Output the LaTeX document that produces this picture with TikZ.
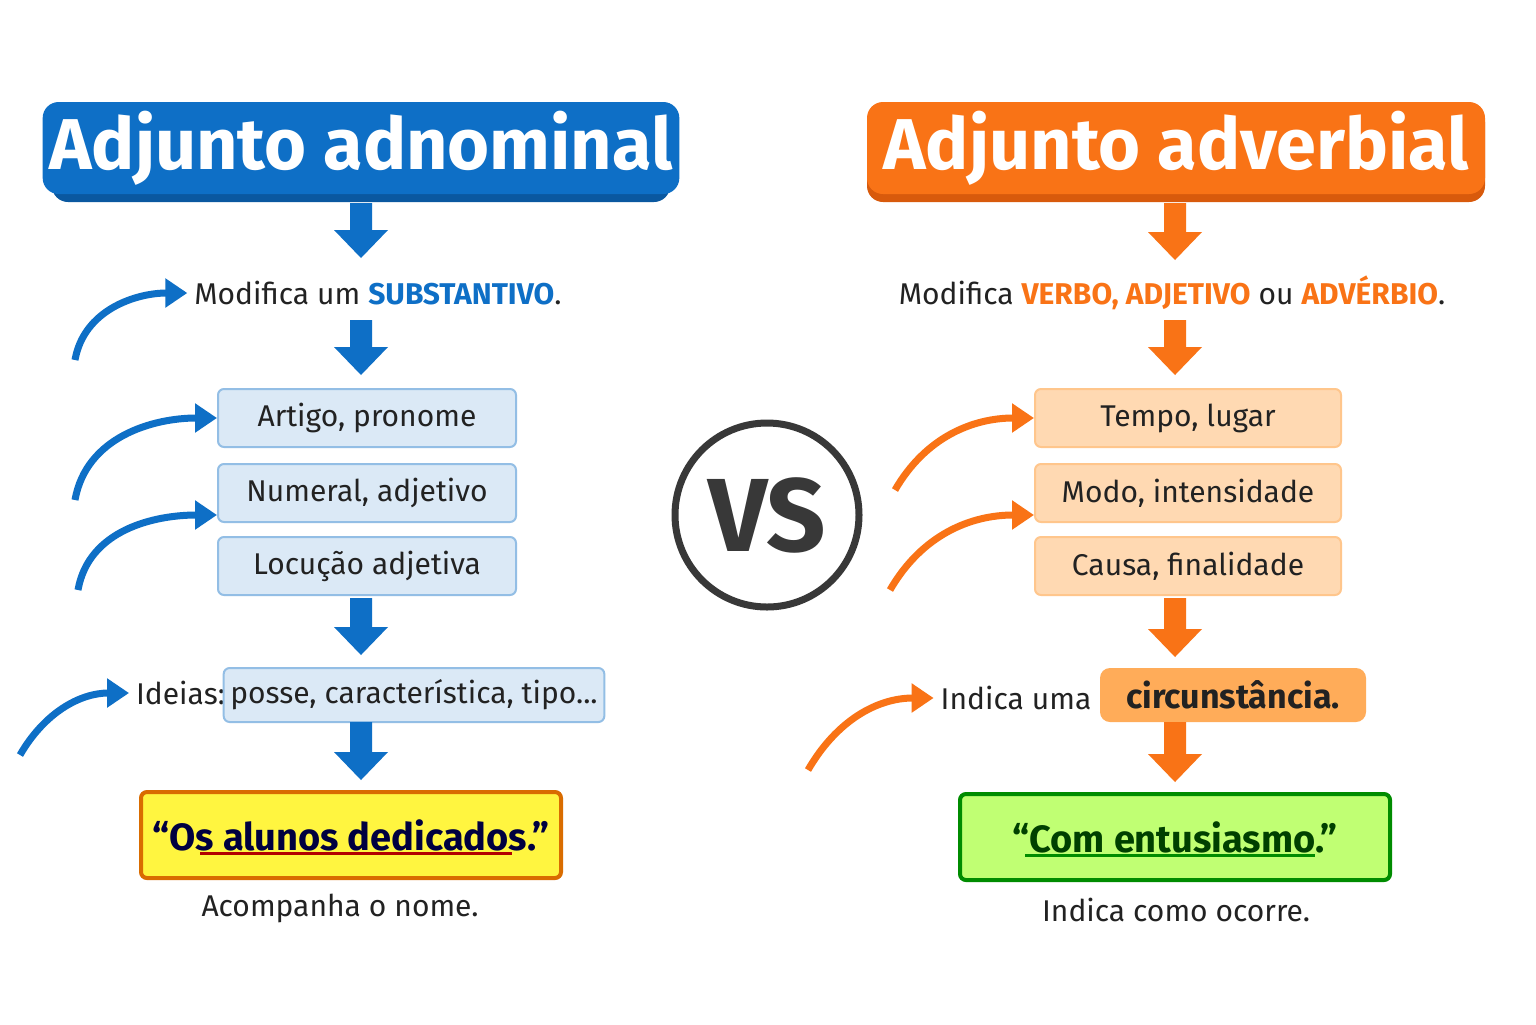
\documentclass[tikz,border=0pt]{standalone}
\usepackage{fontspec}
\setmainfont{Fira Sans}
\usetikzlibrary{arrows.meta}
\definecolor{bl}{HTML}{0E6FC6}
\definecolor{bld}{HTML}{0A58A0}
\definecolor{or}{HTML}{F97316}
\definecolor{ord}{HTML}{D85A0C}
\definecolor{txt}{HTML}{222222}
\tikzset{
 hdr/.style={fill=#1,rounded corners=8pt,text=white,font=\fontsize{36}{40}\selectfont\bfseries},
 bbox/.style={fill=#1!15,draw=#1!45,line width=1pt,rounded corners=3pt,minimum width=149pt,minimum height=29pt,font=\fontsize{15}{18}\selectfont,text=txt},
 lbl/.style={font=\fontsize{15}{18}\selectfont,text=txt},
 curv/.style={#1,line width=3.5pt,-{Triangle[length=11pt,width=14pt]}},
}
\newcommand\blockarrow[4]{\fill[#1] (#2-11,#3) -- (#2+11,#3) -- (#2+11,#4-28) -- (#2+27,#4-28) -- (#2,#4) -- (#2-27,#4-28) -- (#2-11,#4-28) -- cycle;}
\begin{document}
\begin{tikzpicture}[x=0.5pt,y=-0.5pt]
\useasboundingbox (0,0) rectangle (1536,1024);
\fill[white] (0,0) rectangle (1536,1024);
% headers
\fill[bld,rounded corners=8pt] (52,106) rectangle (670,202);
\node[hdr=bl,minimum width=309pt,minimum height=46pt] (h1) at (361,148) {Adjunto adnominal};
\fill[ord,rounded corners=8pt] (867,106) rectangle (1485,202);
\node[hdr=or,minimum width=309pt,minimum height=46pt] (h2) at (1176,148) {Adjunto adverbial};
% left column
\blockarrow{bl}{361}{203}{258}
\node[lbl] (m1) at (378,293) {Modifica um \textcolor{bl}{\bfseries SUBSTANTIVO}.};
\blockarrow{bl}{361}{320}{375}
\node[bbox=bl] (b1) at (367,418) {Artigo, pronome};
\node[bbox=bl] (b2) at (367,493) {Numeral, adjetivo};
\node[bbox=bl] (b3) at (367,566) {Locução adjetiva};
\blockarrow{bl}{361}{598}{655}
\node[lbl,anchor=east] (id) at (232,693) {Ideias:};
\node[bbox=bl,minimum width=177pt,minimum height=27pt] (b4) at (414,695) {posse, característica, tipo...};
\blockarrow{bl}{361}{722}{780}
\node[fill=yellow!75!white,draw=orange!85!black,line width=2pt,rounded corners=3pt,minimum width=210pt,minimum height=43pt,font=\fontsize{19}{22}\selectfont\bfseries,text=blue!25!black] (q1) at (351,835) {“Os alunos dedicados.”};
\draw[red!70!black,line width=1.5pt] (200,853) -- (512,853);
\node[lbl] (a1) at (340,908) {Acompanha o nome.};
\coordinate (c1) at (75,360); \coordinate (c2) at (75,500); \coordinate (c3) at (78,590); \coordinate (c4) at (20,755);
\draw[curv=bl] (c1) to[out=-80+160,in=180] (m1.west);
\draw[curv=bl] (c2) to[out=80,in=180] (b1.west);
\draw[curv=bl] (c3) to[out=80,in=180] (b2.west|-515,515);
\draw[curv=bl] (c4) to[out=60,in=180] (id.west);
% right column
\blockarrow{or}{1175}{203}{260}
\node[lbl] (m2) at (1172,293) {Modifica \textcolor{or}{\bfseries VERBO, ADJETIVO} ou \textcolor{or}{\bfseries ADVÉRBIO}.};
\blockarrow{or}{1175}{320}{375}
\node[bbox=orange,fill=orange!30!white,minimum width=153pt] (r1) at (1188,418) {Tempo, lugar};
\node[bbox=orange,fill=orange!30!white,minimum width=153pt] (r2) at (1188,493) {Modo, intensidade};
\node[bbox=orange,fill=orange!30!white,minimum width=153pt] (r3) at (1188,566) {Causa, finalidade};
\blockarrow{or}{1175}{598}{657}
\node[lbl] (iu) at (1016,698) {Indica uma};
\node[fill=orange!65!white,rounded corners=5pt,minimum width=133pt,minimum height=27pt,font=\fontsize{17}{20}\selectfont\bfseries,text=txt] (r4) at (1233,695) {circunstância.};
\blockarrow{or}{1175}{722}{782}
\node[fill=green!45!yellow!55!white,draw=green!55!black,line width=2pt,rounded corners=3pt,minimum width=215pt,minimum height=43pt,font=\fontsize{19}{22}\selectfont\bfseries,text=green!25!black] (q2) at (1175,837) {“Com entusiasmo.”};
\draw[green!55!black,line width=1.5pt] (1025,855) -- (1315,855);
\node[lbl] (a2) at (1176,910) {Indica como ocorre.};
\coordinate (d1) at (895,490); \coordinate (d2) at (890,590); \coordinate (d3) at (808,770);
\draw[curv=or] (d1) to[out=60,in=180] (r1.west);
\draw[curv=or] (d2) to[out=60,in=180] (r2.west|-515,515);
\draw[curv=or] (d3) to[out=60,in=180] (iu.west);
% VS
\node[circle,draw=txt!90,line width=3.5pt,fill=white,minimum size=92pt,font=\fontsize{52}{56}\selectfont\bfseries,text=txt!90] (vs) at (767,515) {VS};
\end{tikzpicture}
\end{document}
